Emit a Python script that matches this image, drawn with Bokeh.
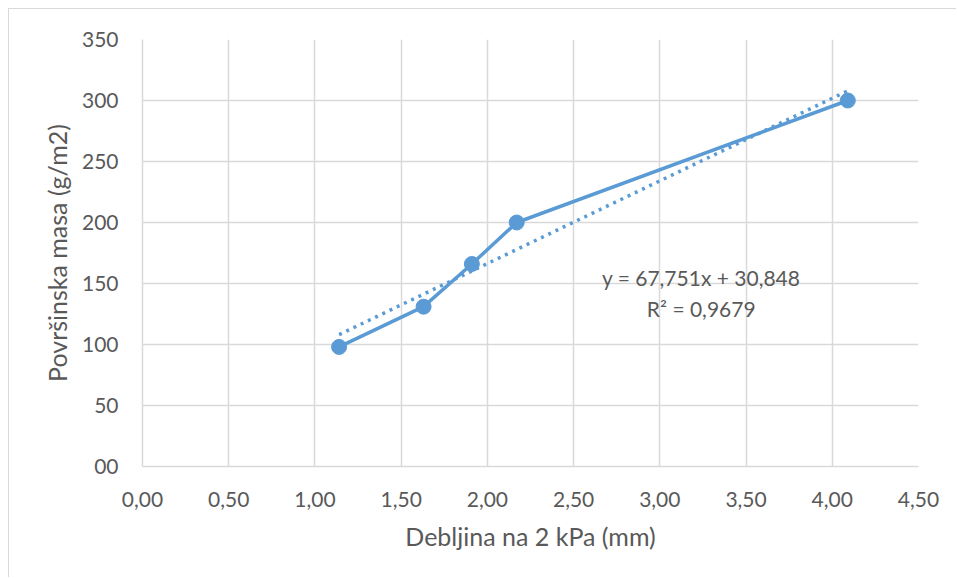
from bokeh.plotting import figure
from bokeh.models import Range1d, FixedTicker, Label
from bokeh.embed import file_html
from bokeh.resources import INLINE

# Data
thickness = [1.14, 1.63, 1.91, 2.17, 4.09]      # Debljina na 2 kPa (mm)
mass = [98, 131, 166, 200, 300]                 # Površinska masa (g/m2)
slope = 67.751
intercept = 30.848
r2_text = "R² = 0,9679"
eq_text = "y = 67,751x + 30,848"
x_ticks = [0, 0.5, 1.0, 1.5, 2.0, 2.5, 3.0, 3.5, 4.0, 4.5]
x_tick_labels = ["0,00", "0,50", "1,00", "1,50", "2,00", "2,50", "3,00", "3,50", "4,00", "4,50"]
y_ticks = [0, 50, 100, 150, 200, 250, 300, 350]
y_tick_labels = ["00", "50", "100", "150", "200", "250", "300", "350"]

FONT = "Lato"
TXT = "#595959"
BLUE = "#5b9bd5"
GRID = "#d9d9d9"

p = figure(width=948, height=569, output_backend="svg", toolbar_location=None,
           x_range=Range1d(0, 4.5), y_range=Range1d(0, 350),
           min_border_left=133, min_border_right=39, min_border_top=30, min_border_bottom=112)
p.margin = (8, 0, 0, 8)
p.styles = {"border-left": "1px solid #d9d9d9", "border-top": "1px solid #d9d9d9"}
p.outline_line_color = None

p.xaxis.ticker = FixedTicker(ticks=x_ticks)
p.yaxis.ticker = FixedTicker(ticks=y_ticks)
p.xaxis.major_label_overrides = {t: l for t, l in zip(x_ticks, x_tick_labels)}
p.yaxis.major_label_overrides = {t: l for t, l in zip(y_ticks, y_tick_labels)}

for ax in (p.xaxis, p.yaxis):
    ax.major_tick_line_color = None
    ax.minor_tick_line_color = None
    ax.axis_line_color = GRID
    ax.axis_line_width = 1.5
    ax.major_label_text_font = FONT
    ax.major_label_text_font_size = "21px"
    ax.major_label_text_color = TXT
    ax.axis_label_text_font = FONT
    ax.axis_label_text_font_size = "25px"
    ax.axis_label_text_font_style = "normal"
    ax.axis_label_text_color = TXT

p.xaxis.axis_label = "Debljina na 2 kPa (mm)"
p.yaxis.axis_label = "Površinska masa (g/m2)"
p.xaxis.major_label_standoff = 19
p.yaxis.major_label_standoff = 18
p.xaxis.axis_label_standoff = 11
p.yaxis.axis_label_standoff = 7

p.xgrid.grid_line_color = GRID
p.ygrid.grid_line_color = GRID
p.xgrid.grid_line_width = 1.5
p.ygrid.grid_line_width = 1.5

# trendline
tx = [min(thickness), max(thickness)]
ty = [slope * v + intercept for v in tx]
p.line(tx, ty, line_color=BLUE, line_width=3.5, line_dash="3 5")

p.line(thickness, mass, line_color=BLUE, line_width=3.5)
p.scatter(thickness, mass, size=15, fill_color=BLUE, line_color=BLUE)

p.add_layout(Label(x=3.24, y=155, text=eq_text, text_align="center", text_baseline="middle",
                   text_font=FONT, text_font_size="21px", text_color=TXT))
p.add_layout(Label(x=3.24, y=129.5, text=r2_text, text_align="center", text_baseline="middle",
                   text_font=FONT, text_font_size="21px", text_color=TXT))

open("out.html", "w").write(file_html(p, INLINE))
